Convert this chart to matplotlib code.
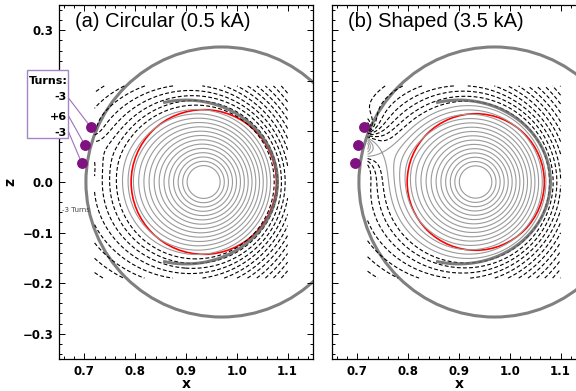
import numpy as np
import matplotlib
matplotlib.use('Agg')
import matplotlib.pyplot as plt
from matplotlib.patches import Circle, Rectangle
from matplotlib.ticker import AutoMinorLocator, FuncFormatter

# Panel info
titles = ['(a) Circular (0.5 kA)', '(b) Shaped (3.5 kA)']
coil_current = [0.5, 3.5]            # kA per turn
plasma_current = 38.0                # kA (model strength)
plasma_center = [(0.935, 0.0), (0.933, 0.0)]
plasma_radius = [0.143, 0.135]       # red boundary
current_radius = 0.15
vertical_field = 50.0

# Coils on the inboard side
coil_x = [0.713, 0.701, 0.695]
coil_z = [0.108, 0.073, 0.037]
coil_turns = [-3, 6, -3]

# Vessel wall and shell
wall_center = (0.97, 0.0)
wall_radius = 0.267
shell_center = (0.90, 0.0)
shell_rx, shell_rz = 0.18, 0.162
shell_span = 104.5                   # degrees each side

# Flux grid box
box_x = (0.72, 1.10)
box_z = (-0.19, 0.19)
dpsi = 2.15


def flux(X, Z, xc, zc, Ic):
    a = current_radius
    r = np.hypot(X - xc, Z - zc)
    prof = np.where(r < a, -r / a, -1 - np.log(np.maximum(r, 1e-9) / a))
    psi = plasma_current * prof
    psi -= vertical_field * (X - xc) * r**2 / (r**2 + a**2)
    for cx, cz, n in zip(coil_x, coil_z, coil_turns):
        d = np.hypot(X - cx, Z - cz)
        psi -= n * Ic * np.log(np.maximum(d, 1e-9))
    return psi


def fmt(v, pos):
    return f'{v:.1f}'.replace('-', '\u2212')


def fmt_left(v, pos):
    # 0.1 and 0.2 sit under the turns box
    if 0.05 < v < 0.25:
        return ''
    return fmt(v, pos)


fig = plt.figure(figsize=(5.76, 3.91), dpi=100)
W, H = 576, 391
ax_left = [59, 332]

xs = np.linspace(box_x[0], box_x[1], 500)
zs = np.linspace(box_z[0], box_z[1], 500)
X, Z = np.meshgrid(xs, zs)

for i in range(2):
    ax = fig.add_axes([ax_left[i] / W, (H - 359) / H, 254 / W, 354 / H])
    xc, zc = plasma_center[i]
    psi = flux(X, Z, xc, zc, coil_current[i])

    if i == 1:
        # separatrix level from the saddle point near the coils
        gx = np.gradient(psi, xs, axis=1)
        gz = np.gradient(psi, zs, axis=0)
        g = np.hypot(gx, gz)
        m = (X > 0.735) & (X < 0.82) & (Z > 0.0) & (Z < 0.12)
        g = np.where(m, g, np.inf)
        k = np.unravel_index(np.argmin(g), g.shape)
        psi_b = psi[k]
    else:
        psi_b = flux(np.array(xc - 0.16), np.array(zc), xc, zc, coil_current[i])

    psi_max = psi[(np.hypot(X - xc, Z - zc) < 0.1)].max()
    n_in = int((psi_max - psi_b) / dpsi - 3.5)
    solid = psi_b + dpsi * np.arange(0, n_in + 1)
    dashed = psi_b - dpsi * np.arange(1, 40)[::-1]

    ax.contour(X, Z, psi, levels=solid, colors='#9a9a9a', linewidths=0.8,
               linestyles='solid')
    ax.contour(X, Z, psi, levels=dashed, colors='black', linewidths=0.8,
               linestyles=[(0, (3.5, 2.0))])

    t = np.radians(np.linspace(-shell_span, shell_span, 200))
    ax.plot(shell_center[0] + shell_rx * np.cos(t),
            shell_center[1] + shell_rz * np.sin(t),
            color='#666666', lw=2.2, alpha=0.85, solid_capstyle='butt')

    ax.add_patch(Circle((xc, zc), plasma_radius[i], fill=False, ec='red', lw=1.2))
    ax.add_patch(Circle(wall_center, wall_radius, fill=False, ec='#808080', lw=2.2))
    ax.plot(coil_x, coil_z, 'o', ms=6.8, color='#7f1180', zorder=6)

    ax.set_xlim(0.65, 1.15)
    ax.set_ylim(-0.35, 0.35)
    ax.set_xticks([0.7, 0.8, 0.9, 1.0, 1.1])
    ax.set_yticks([-0.3, -0.2, -0.1, 0.0, 0.1, 0.2, 0.3])
    ax.xaxis.set_minor_locator(AutoMinorLocator(5))
    ax.yaxis.set_minor_locator(AutoMinorLocator(5))
    ax.xaxis.set_major_formatter(FuncFormatter(fmt))
    ax.yaxis.set_major_formatter(FuncFormatter(fmt_left))
    ax.tick_params(which='both', direction='in', top=True, right=True,
                   labelsize=8.5, width=0.7, pad=4)
    ax.tick_params(which='major', length=4)
    ax.tick_params(which='minor', length=2.2)
    for lab in ax.get_xticklabels() + ax.get_yticklabels():
        lab.set_fontweight('bold')
    for s in ax.spines.values():
        s.set_linewidth(0.9)
    if i == 1:
        ax.tick_params(labelleft=False)

    ax.set_xlabel('x', fontsize=10, fontweight='bold')
    ax.xaxis.set_label_coords(0.5, -0.05)

    ax.text(0.062, 0.952, titles[i], transform=ax.transAxes, fontsize=14.5,
            family=['Liberation Sans', 'DejaVu Sans'],
            ha='left', va='center')

    if i == 0:
        ax.set_ylabel('z', fontsize=10, fontweight='bold')
        ax.yaxis.set_label_coords(-0.162, 0.5)
        ax.text(0.656, -0.055, '-3 Turns', fontsize=5, color='#444444',
                ha='left', va='center')
        # turns legend box
        ax.add_patch(Rectangle((0.587, 0.087), 0.081, 0.135, fc='white',
                               ec='#a585c4', lw=1.0, clip_on=False, zorder=10))
        ax.text(0.590, 0.2, 'Turns:', fontsize=8, fontweight='bold',
                ha='left', va='center', zorder=11, clip_on=False)
        lab_z = [0.168, 0.128, 0.097]
        for zt, n in zip(lab_z, coil_turns):
            ax.text(0.665, zt, f'{n:+d}', fontsize=8, fontweight='bold',
                    ha='right', va='center', zorder=11, clip_on=False)
        line_z = [0.1657, 0.1302, 0.0986]
        for zl, cx, cz in zip(line_z, coil_x, coil_z):
            ax.plot([0.669, cx], [zl, cz], color='#9c72b8', lw=0.8,
                    clip_on=False, zorder=5)

fig.savefig('out.png', dpi=100)
